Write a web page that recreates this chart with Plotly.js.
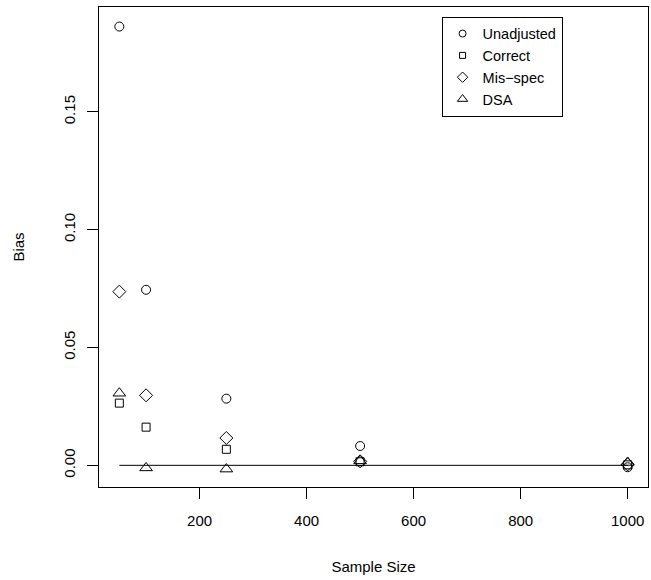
<!DOCTYPE html>
<html>
<head>
<meta charset="utf-8">
<script src="https://cdn.plot.ly/plotly-3.0.1.min.js"></script>
<style>html,body{margin:0;padding:0;background:#fff;}#chart{width:651px;height:580px;}</style>
</head>
<body>
<div id="chart"></div>
<script>
const sampleSizes = [50, 100, 250, 500, 1000];
const unadjusted = [0.1862, 0.0745, 0.0283, 0.0082, -0.0008];
const correct = [0.0264, 0.0162, 0.0068, 0.0015, 0.0002];
const misspec = [0.0737, 0.0297, 0.0116, 0.0017, 0.0004];
const dsa = [0.0306, -0.0011, -0.0016, 0.0019, 0.0012];
const refLineX = [50, 1000];
const refLineY = [0, 0];
const seriesNames = ["Unadjusted", "Correct", "Mis\u2212spec", "DSA"];
const yTickVals = [0, 0.05, 0.10, 0.15];
const yTickText = ["0.00", "0.05", "0.10", "0.15"];
const xTickVals = [200, 400, 600, 800, 1000];

const symbols = ["circle-open", "square-open", "diamond-open", "triangle-up-open"];
const sizes = [9, 8, 10, 11];
const legSizes = [7, 6, 8, 9];
const series = [unadjusted, correct, misspec, dsa];
const font = "Liberation Sans, Arial, Helvetica, sans-serif";

const traces = [{
  x: refLineX, y: refLineY, mode: "lines", showlegend: false,
  line: {color: "black", width: 1}, hoverinfo: "skip"
}];
series.forEach((s, i) => {
  traces.push({
    x: sampleSizes, y: s, mode: "markers", showlegend: false,
    marker: {symbol: symbols[i], size: sizes[i], color: "black", line: {color: "black", width: 1}}
  });
});
series.forEach((s, i) => {
  traces.push({
    x: [null], y: [null], mode: "markers", name: seriesNames[i],
    marker: {symbol: symbols[i], size: legSizes[i], color: "black", line: {color: "black", width: 1}}
  });
});

const layout = {
  width: 651, height: 580,
  margin: {l: 99, r: 3, t: 7, b: 93, pad: 0},
  paper_bgcolor: "white", plot_bgcolor: "white",
  font: {family: font, size: 15, color: "black"},
  showlegend: true,
  legend: {
    x: 0.624, y: 0.98, xanchor: "left", yanchor: "top",
    bordercolor: "black", borderwidth: 1, bgcolor: "white",
    font: {family: font, size: 14.5, color: "black"},
    tracegroupgap: 0, itemwidth: 30
  },
  xaxis: {
    range: [12, 1038], tickvals: xTickVals, ticks: "outside", ticklen: 11,
    tickcolor: "black", showgrid: false, zeroline: false,
    showline: true, mirror: true, linecolor: "black", linewidth: 1,
    tickfont: {family: font, size: 15}, ticklabelstandoff: 9,
    title: {text: "Sample Size", font: {family: font, size: 15}, standoff: 33}
  },
  yaxis: {
    range: [-0.0092, 0.1945], tickvals: yTickVals, ticktext: yTickText,
    ticks: "outside", ticklen: 11, tickangle: -90,
    tickcolor: "black", showgrid: false, zeroline: false,
    showline: true, mirror: true, linecolor: "black", linewidth: 1,
    tickfont: {family: font, size: 15}, ticklabelstandoff: 6,
    title: {text: "Bias", font: {family: font, size: 15}, standoff: 32}
  }
};
Plotly.newPlot("chart", traces, layout, {staticPlot: true});
</script>
</body>
</html>
